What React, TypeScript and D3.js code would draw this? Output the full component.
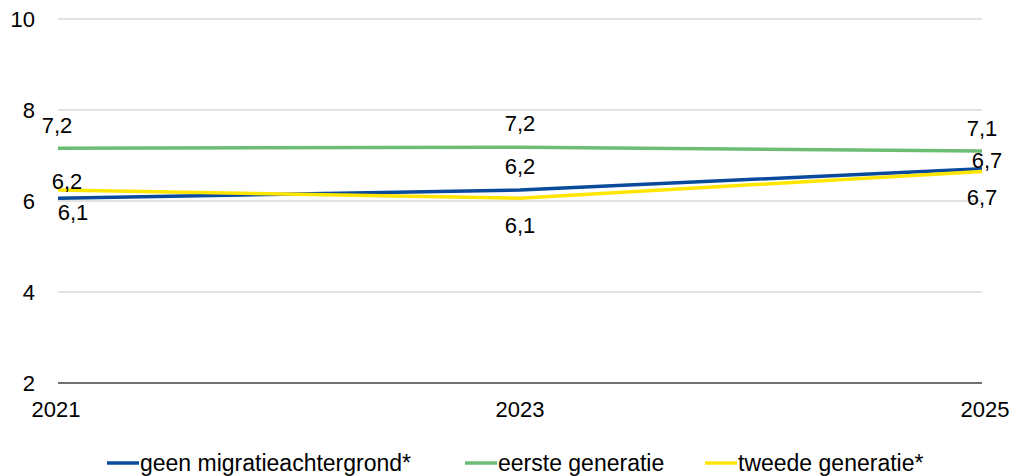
import React from 'react'
import * as d3 from 'd3'

const years = ['2021', '2023', '2025']
const geen = [6.06, 6.24, 6.71]
const eerste = [7.16, 7.18, 7.1]
const tweede = [6.24, 6.06, 6.65]
const yTicks = [2, 4, 6, 8, 10]

const W = 1016
const H = 476
const margin = { left: 58, right: 34, top: 19, bottom: 93 }

// label offsets (dx, dy) relative to each point
const series = [
  { name: 'geen migratieachtergrond*', values: geen, color: '#0a4a9c', dx: [15, 0, 5], dy: [22, -16, -1] },
  { name: 'eerste generatie', values: eerste, color: '#6cbd73', dx: [-1, 0, 0], dy: [-15, -16, -15] },
  { name: 'tweede generatie*', values: tweede, color: '#ffe600', dx: [9, 0, 0], dy: [-1, 35, 34] },
]

const fmt = (v: number) => v.toFixed(1).replace('.', ',')

export default function App() {
  const x = d3.scalePoint<string>().domain(years).range([margin.left, W - margin.right])
  const y = d3.scaleLinear().domain([2, 10]).range([H - margin.bottom, margin.top])
  const line = d3.line<number>()
    .x((_, i) => x(years[i])!)
    .y(d => y(d))

  const font = 'Liberation Sans, Arial, sans-serif'
  const legendX = [107, 465, 705]

  return (
    <svg width={W} height={H} style={{ position: 'absolute', left: 0, top: 0, background: '#fff' }} fontFamily={font}>
      {yTicks.map(t => (
        <g key={t}>
          {t !== 2 && (
            <line x1={margin.left} x2={W - margin.right} y1={y(t)} y2={y(t)} stroke="#d9d9d9" strokeWidth={1.5} />
          )}
          <text x={35} y={y(t)} dy="0.35em" textAnchor="end" fontSize={22} fill="#000">{t}</text>
        </g>
      ))}
      <line x1={margin.left} x2={W - margin.right} y1={y(2)} y2={y(2)} stroke="#404040" strokeWidth={1.5} />
      {years.map(yr => (
        <text key={yr} x={x(yr)! + (yr === '2021' ? -2 : yr === '2025' ? 3 : 0)} y={417} textAnchor="middle" fontSize={22} fill="#000">{yr}</text>
      ))}
      {series.map(s => (
        <path key={s.name} d={line(s.values)!} fill="none" stroke={s.color} strokeWidth={3.5} />
      ))}
      {series.map(s =>
        s.values.map((v, i) => (
          <text
            key={s.name + i}
            x={x(years[i])! + s.dx[i]}
            y={y(v) + s.dy[i]}
            textAnchor="middle"
            fontSize={22}
            fill="#000"
          >
            {fmt(v)}
          </text>
        ))
      )}
      {series.map((s, i) => (
        <g key={s.name} transform={`translate(${legendX[i]},463)`}>
          <line x1={0} x2={32} y1={0} y2={0} stroke={s.color} strokeWidth={3.5} />
          <text x={33} y={0} dy="0.35em" fontSize={23} fill="#000">{s.name}</text>
        </g>
      ))}
    </svg>
  )
}
